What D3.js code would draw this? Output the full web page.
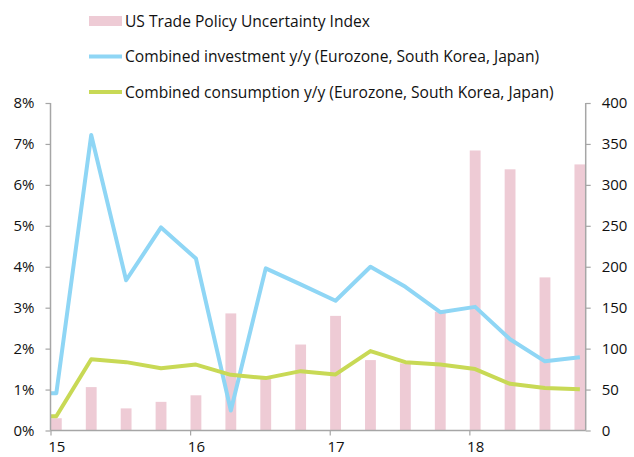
<!DOCTYPE html>
<html lang="en">
<head>
<meta charset="UTF-8">
<title>Trade policy uncertainty vs investment and consumption</title>
<script src="https://d3js.org/d3.v7.min.js"></script>
<style>
  body { margin: 0; background: #fff; }
  text { font-family: "Open Sans", "DejaVu Sans", sans-serif; fill: #111; }
</style>
</head>
<body>
<script>
// quarterly data, Q1 2015 .. Q4 2018 (month index from Jan 2015)
const months = [0, 3, 6, 9, 12, 15, 18, 21, 24, 27, 30, 33, 36, 39, 42, 45];
const tpu = [15, 53, 27, 35, 43, 143, 63, 105, 140, 86, 82, 145, 342, 319, 187, 325];
const investment = [0.91, 7.22, 3.67, 4.96, 4.20, 0.49, 3.96, 3.57, 3.17, 4.00, 3.51, 2.89, 3.02, 2.23, 1.69, 1.79];
const consumption = [0.35, 1.74, 1.67, 1.52, 1.61, 1.36, 1.28, 1.45, 1.37, 1.94, 1.67, 1.61, 1.50, 1.14, 1.04, 1.01];
const yearTicks = [0, 12, 24, 36];
const yearLabels = ["15", "16", "17", "18"];
const legendItems = [
  { name: "US Trade Policy Uncertainty Index", type: "bar", color: "#eecbd5" },
  { name: "Combined investment y/y (Eurozone, South Korea, Japan)", type: "line", color: "#8fd6f5" },
  { name: "Combined consumption y/y (Eurozone, South Korea, Japan)", type: "line", color: "#c8d955" }
];

const width = 634, height = 457;
const plotLeft = 50.5, plotRight = 585.7, plotTop = 103, plotBottom = 430.5;
const axisColor = "#a6a6a6";

const svg = d3.select("body").append("svg")
  .attr("width", width).attr("height", height);

const x = d3.scaleLinear().domain([0, 46]).range([plotLeft, plotRight]);
const yL = d3.scaleLinear().domain([0, 8]).range([plotBottom, plotTop]);
const yR = d3.scaleLinear().domain([0, 400]).range([plotBottom, plotTop]);

// bars
svg.append("g").selectAll("rect")
  .data(months)
  .join("rect")
  .attr("x", (m) => x(m) + 0.4)
  .attr("width", x(1) - x(0) - 0.8)
  .attr("y", (m, i) => yR(tpu[i]))
  .attr("height", (m, i) => plotBottom - yR(tpu[i]))
  .attr("fill", legendItems[0].color);

// lines (start at the axis edge with the first value)
function drawLine(values, color) {
  const pts = [[0, values[0]]].concat(months.map((m, i) => [m + 0.5, values[i]]));
  svg.append("path")
    .datum(pts)
    .attr("fill", "none")
    .attr("stroke", color)
    .attr("stroke-width", 4)
    .attr("stroke-linejoin", "round")
    .attr("d", d3.line().x(d => x(d[0])).y(d => yL(d[1])));
}
drawLine(investment, legendItems[1].color);
drawLine(consumption, legendItems[2].color);

// axes
const gL = svg.append("g").attr("transform", `translate(${plotLeft},0)`)
  .call(d3.axisLeft(yL).tickValues(d3.range(0, 9)).tickFormat(d => d + "%").tickSize(5).tickPadding(11));
const gR = svg.append("g").attr("transform", `translate(${plotRight},0)`)
  .call(d3.axisRight(yR).tickValues(d3.range(0, 401, 50)).tickSize(5).tickPadding(11));
const gB = svg.append("g").attr("transform", `translate(0,${plotBottom})`)
  .call(d3.axisBottom(x).tickValues(yearTicks).tickFormat((d, i) => yearLabels[i]).tickSize(5).tickPadding(6));

[gL, gR, gB].forEach(g => {
  g.select(".domain").attr("stroke", axisColor).attr("stroke-width", 1.5);
  g.selectAll(".tick line").attr("stroke", axisColor).attr("stroke-width", 1.2);
  g.selectAll(".tick text").attr("font-size", 15).attr("fill", "#111")
    .attr("font-family", "'Open Sans', 'DejaVu Sans', sans-serif");
});
gB.select(".domain").attr("d", `M${plotLeft},0H${plotRight}`);
gL.select(".domain").attr("d", `M0,${plotTop}V${plotBottom}`);
gR.select(".domain").attr("d", `M0,${plotTop}V${plotBottom}`);
gB.selectAll(".tick text").attr("x", x(0.5) - x(0));

// legend
const lg = svg.append("g");
legendItems.forEach((item, i) => {
  const cy = 21 + i * 35.5;
  if (item.type === "bar") {
    lg.append("rect").attr("x", 89).attr("y", cy - 5).attr("width", 33).attr("height", 10).attr("fill", item.color);
  } else {
    lg.append("line").attr("x1", 89).attr("x2", 122).attr("y1", cy).attr("y2", cy)
      .attr("stroke", item.color).attr("stroke-width", 4);
  }
  lg.append("text").attr("x", 125).attr("y", cy + 5.5).attr("font-size", 15.6).text(item.name);
});
</script>
</body>
</html>
